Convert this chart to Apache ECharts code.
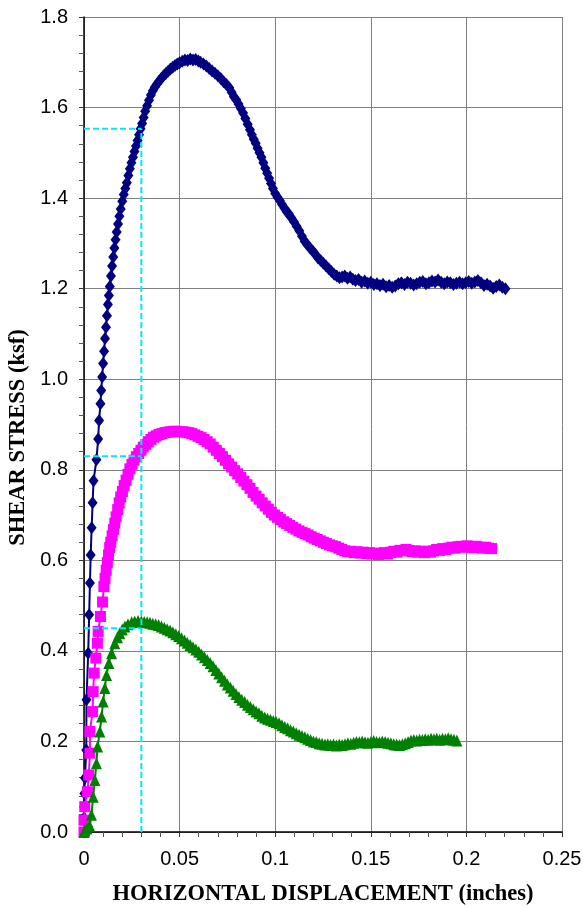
<!DOCTYPE html>
<html>
<head>
<meta charset="utf-8">
<script src="https://cdn.jsdelivr.net/npm/echarts@6/dist/echarts.min.js"></script>
<style>
html,body{margin:0;padding:0;background:#fff;}
#chart{width:583px;height:907px;}
</style>
</head>
<body>
<div id="chart"></div>
<script>
// ---- Data ----
var xTitle = 'HORIZONTAL DISPLACEMENT (inches)';
var yTitle = 'SHEAR STRESS (ksf)';

var blueX = [0.0000,0.0000,0.0000,0.0002,0.0005,0.0012,0.0013,0.0022,0.0027,0.0031,0.0035,0.0040,0.0045,0.0050,0.0065,0.0074,0.0079,0.0086,
0.0090,0.0095,0.0100,0.0105,0.0110,0.0115,0.0120,0.0125,0.0130,0.0135,0.0141,0.0147,0.0153,0.0159,0.0165,0.0171,0.0178,0.0185,0.0192,0.0200,
0.0208,0.0216,0.0224,0.0232,0.0240,0.0248,0.0256,0.0264,0.0272,0.0280,0.0288,0.0296,0.0304,0.0312,0.0320,0.0330,0.0340,0.0350,0.0360,0.0370,
0.0380,0.0392,0.0404,0.0416,0.0428,0.0440,0.0452,0.0464,0.0476,0.0488,0.0500,0.0514,0.0528,0.0542,0.0556,0.0570,0.0584,0.0598,
0.0610,0.0625,0.0640,0.0655,0.0670,0.0685,0.0700,0.0715,0.0730,0.0745,0.0760,0.0772,0.0784,0.0796,0.0808,0.0820,0.0832,0.0844,0.0856,0.0868,
0.0878,0.0888,0.0898,0.0908,0.0918,0.0928,0.0938,0.0948,0.0958,0.0968,0.0978,0.0988,0.1000,0.1012,0.1024,0.1036,0.1048,0.1060,0.1072,0.1085,
0.1098,0.1112,0.1126,0.1140,0.1154,0.1168,0.1182,0.1196,0.1210,0.1224,0.1238,0.1252,0.1266,0.1280,0.1294,0.1308,0.1322,0.1336,0.1350,0.1364,
0.1378,0.1392,0.1406,0.1420,0.1436,0.1452,0.1468,0.1484,0.1500,0.1516,0.1532,0.1548,0.1564,0.1580,0.1596,0.1612,0.1628,0.1644,0.1660,0.1676,
0.1692,0.1708,0.1724,0.1740,0.1756,0.1772,0.1788,0.1804,0.1820,0.1836,0.1852,0.1868,0.1884,0.1900,0.1916,0.1932,0.1948,0.1964,0.1980,0.1996,
0.2012,0.2028,0.2044,0.2060,0.2076,0.2092,0.2108,0.2124,0.2140,0.2156,0.2172,0.2188,0.2204];
var blueY = [0.000,0.031,0.056,0.085,0.119,0.181,0.292,0.395,0.480,0.550,0.612,0.672,0.727,0.776,0.822,0.868,0.909,0.946,
0.975,1.005,1.035,1.062,1.090,1.115,1.140,1.165,1.185,1.205,1.228,1.250,1.270,1.290,1.308,1.325,1.343,1.360,1.376,1.393,
1.408,1.421,1.434,1.450,1.465,1.478,1.490,1.503,1.515,1.527,1.540,1.553,1.565,1.578,1.592,1.604,1.616,1.628,1.637,1.645,
1.651,1.658,1.664,1.670,1.675,1.680,1.685,1.689,1.693,1.696,1.699,1.702,1.705,1.704,1.707,1.705,1.706,1.703,
1.700,1.696,1.692,1.686,1.681,1.676,1.670,1.664,1.657,1.651,1.644,1.634,1.624,1.617,1.608,1.598,1.588,1.576,1.563,1.551,
1.540,1.530,1.521,1.510,1.500,1.490,1.478,1.466,1.455,1.444,1.432,1.421,1.410,1.402,1.395,1.386,1.378,1.370,1.365,1.356,
1.348,1.338,1.328,1.316,1.305,1.297,1.290,1.283,1.276,1.268,1.262,1.256,1.250,1.244,1.238,1.232,1.228,1.224,1.226,1.228,
1.223,1.226,1.221,1.218,1.220,1.214,1.217,1.212,1.214,1.209,1.211,1.207,1.210,1.204,1.207,1.203,1.206,1.211,1.213,1.209,
1.214,1.212,1.208,1.211,1.214,1.216,1.211,1.213,1.217,1.215,1.219,1.214,1.211,1.215,1.213,1.209,1.212,1.214,1.211,1.213,
1.216,1.212,1.215,1.218,1.213,1.207,1.210,1.206,1.201,1.205,1.208,1.203,1.200];

var magX = [0.0000,0.0000,0.0004,0.0018,0.0025,0.0031,0.0031,0.0045,0.0048,0.0053,0.0062,0.0070,0.0074,0.0086,0.0097,0.0104,
0.0110,0.0116,0.0122,0.0128,0.0134,0.0140,0.0147,0.0154,0.0161,0.0168,0.0176,0.0184,0.0192,0.0201,0.0210,0.0220,0.0230,0.0240,0.0251,0.0262,
0.0274,0.0286,0.0298,0.0310,0.0323,0.0336,0.0350,0.0364,0.0378,0.0393,0.0408,0.0423,0.0438,0.0453,0.0468,0.0484,0.0500,0.0516,0.0532,0.0548,
0.0564,0.0580,0.0596,0.0612,0.0628,0.0644,0.0660,0.0676,0.0692,0.0708,0.0724,0.0740,0.0756,0.0772,0.0788,0.0804,0.0820,0.0836,0.0852,0.0868,
0.0884,0.0900,0.0916,0.0932,0.0948,0.0964,0.0980,0.0996,0.1012,0.1028,0.1044,0.1060,0.1076,0.1092,0.1108,0.1124,0.1140,0.1156,0.1172,0.1188,
0.1204,0.1220,0.1236,0.1252,0.1268,0.1284,0.1300,0.1316,0.1332,0.1348,0.1364,0.1380,0.1396,0.1412,0.1428,0.1444,0.1460,0.1476,0.1492,0.1508,
0.1524,0.1540,0.1556,0.1572,0.1588,0.1604,0.1620,0.1636,0.1652,0.1668,0.1684,0.1700,0.1716,0.1732,0.1748,0.1764,0.1780,0.1796,0.1812,0.1828,
0.1844,0.1860,0.1876,0.1892,0.1908,0.1924,0.1940,0.1956,0.1972,0.1988,0.2004,0.2020,0.2036,0.2052,0.2068,0.2084,0.2100,0.2116,0.2132];
var magY = [0.000,0.026,0.056,0.089,0.126,0.174,0.222,0.266,0.310,0.351,0.384,0.417,0.443,0.476,0.508,0.542,
0.560,0.578,0.595,0.612,0.628,0.640,0.654,0.668,0.682,0.696,0.712,0.727,0.740,0.752,0.765,0.777,0.790,0.802,0.812,0.821,
0.829,0.836,0.843,0.850,0.856,0.862,0.867,0.872,0.875,0.878,0.880,0.882,0.883,0.884,0.885,0.885,0.884,0.884,0.883,0.882,
0.880,0.877,0.874,0.871,0.867,0.862,0.857,0.850,0.843,0.836,0.829,0.821,0.813,0.806,0.798,0.791,0.783,0.775,0.767,0.759,
0.750,0.742,0.735,0.727,0.720,0.713,0.706,0.700,0.695,0.690,0.685,0.681,0.677,0.673,0.669,0.665,0.662,0.659,0.656,0.652,
0.649,0.646,0.643,0.640,0.637,0.634,0.632,0.630,0.627,0.624,0.621,0.619,0.620,0.617,0.619,0.616,0.618,0.615,0.617,0.614,
0.616,0.613,0.615,0.617,0.614,0.618,0.620,0.618,0.622,0.621,0.624,0.622,0.619,0.621,0.618,0.620,0.617,0.620,0.618,0.621,
0.624,0.622,0.626,0.624,0.627,0.629,0.627,0.630,0.631,0.629,0.632,0.630,0.628,0.631,0.629,0.627,0.629,0.627,0.626];

var grnX = [0.0000,0.0005,0.0015,0.0030,0.0039,0.0048,0.0057,0.0065,0.0071,0.0083,0.0092,0.0100,0.0109,0.0118,0.0130,0.0144,0.0161,0.0175,0.0187,
0.0200,0.0214,0.0230,0.0249,0.0265,0.0283,0.0300,0.0315,0.0330,0.0345,0.0360,0.0375,0.0390,0.0405,0.0420,0.0435,0.0450,0.0465,0.0480,0.0495,
0.0510,0.0525,0.0540,0.0555,0.0570,0.0585,0.0600,0.0615,0.0630,0.0645,0.0660,0.0675,0.0690,0.0705,0.0720,0.0735,0.0750,0.0765,0.0780,0.0795,
0.0810,0.0825,0.0840,0.0855,0.0870,0.0885,0.0900,0.0915,0.0930,0.0945,0.0960,0.0975,0.0990,0.1005,0.1020,0.1035,0.1050,0.1065,0.1080,0.1095,
0.1110,0.1125,0.1140,0.1155,0.1170,0.1185,0.1200,0.1215,0.1230,0.1245,0.1260,0.1275,0.1290,0.1305,0.1320,0.1335,0.1350,0.1365,0.1380,0.1395,
0.1410,0.1425,0.1440,0.1455,0.1470,0.1485,0.1500,0.1515,0.1530,0.1545,0.1560,0.1575,0.1590,0.1605,0.1620,0.1635,0.1650,0.1665,0.1680,0.1695,
0.1710,0.1725,0.1740,0.1755,0.1770,0.1785,0.1800,0.1815,0.1830,0.1845,0.1860,0.1875,0.1890,0.1905,0.1920,0.1935,0.1950];
var grnY = [0.000,0.004,0.008,0.014,0.038,0.078,0.115,0.152,0.189,0.222,0.255,0.288,0.318,0.347,0.373,0.395,0.417,0.430,0.439,
0.447,0.454,0.459,0.463,0.465,0.466,0.465,0.464,0.463,0.462,0.460,0.459,0.457,0.454,0.451,0.448,0.445,0.441,0.437,0.433,
0.428,0.423,0.418,0.413,0.408,0.403,0.398,0.392,0.386,0.380,0.373,0.366,0.358,0.350,0.342,0.334,0.326,0.319,0.312,0.305,
0.298,0.292,0.287,0.281,0.276,0.271,0.266,0.262,0.257,0.253,0.250,0.248,0.245,0.243,0.240,0.236,0.232,0.229,0.225,0.222,
0.218,0.215,0.212,0.209,0.206,0.203,0.200,0.199,0.196,0.195,0.193,0.194,0.192,0.193,0.191,0.193,0.192,0.194,0.196,0.195,
0.197,0.199,0.198,0.200,0.198,0.197,0.199,0.201,0.199,0.198,0.200,0.199,0.197,0.196,0.194,0.193,0.192,0.194,0.196,0.199,
0.202,0.203,0.202,0.204,0.203,0.205,0.204,0.206,0.205,0.206,0.204,0.206,0.205,0.207,0.205,0.204,0.202];

// Reference (dashed) lines: vertical at refX, horizontal levels refY
var refX = 0.03;
var refY = [1.553, 0.83, 0.45];

function zip(xs, ys){ return xs.map(function(x,i){ return [x, ys[i]]; }); }

var chart = echarts.init(document.getElementById('chart'), null, {renderer:'canvas'});

var series = [
  {type:'line', name:'blue', data: zip(blueX, blueY), symbol:'diamond', symbolSize:[10,13], showSymbol:true,
   itemStyle:{color:'#000080'}, lineStyle:{color:'#000080', width:2}, z:2},
  {type:'line', name:'magenta', data: zip(magX, magY), symbol:'rect', symbolSize:11, showSymbol:true,
   itemStyle:{color:'#FF00FF'}, lineStyle:{color:'#FF00FF', width:2}, z:3},
  {type:'line', name:'green', data: zip(grnX, grnY), symbol:'triangle', symbolSize:[11,12], showSymbol:true,
   itemStyle:{color:'#008000'}, lineStyle:{color:'#008000', width:2}, z:4},
  {type:'line', name:'ref-v', data: [[refX, 0],[refX, refY[0]]], symbol:'none',
   lineStyle:{color:'#00E8FF', width:2, type:[6,3]}, z:5}
];
refY.forEach(function(v, i){
  series.push({type:'line', name:'ref-h'+i, data: [[0, v],[refX, v]], symbol:'none',
    lineStyle:{color:'#00E8FF', width:2, type:[6,3]}, z:5});
});

chart.setOption({
  animation:false,
  backgroundColor:'#ffffff',
  grid:{left:84, right:21, top:17, bottom:75, containLabel:false, outerBoundsMode:'none'},
  xAxis:{
    type:'value', min:0, max:0.25, interval:0.05,
    name:xTitle, nameLocation:'middle', nameGap:51,
    nameTextStyle:{fontFamily:'Liberation Serif', fontWeight:'bold', fontSize:22.5, color:'#000'},
    axisLine:{show:true, onZero:false, lineStyle:{color:'#000', width:1.5}},
    axisTick:{show:true, inside:false, length:5, lineStyle:{color:'#333'}},
    minorTick:{show:true, splitNumber:5, length:5, lineStyle:{color:'#555'}},
    axisLabel:{fontFamily:'Liberation Sans', fontSize:20, color:'#000', margin:17},
    splitLine:{show:true, lineStyle:{color:'#808080', width:1}}
  },
  yAxis:{
    type:'value', min:0, max:1.8, interval:0.2,
    name:yTitle, nameLocation:'middle', nameGap:47, nameRotate:90,
    nameTextStyle:{fontFamily:'Liberation Serif', fontWeight:'bold', fontSize:22.5, color:'#000', padding:[0,26,0,0]},
    axisLine:{show:true, onZero:false, lineStyle:{color:'#000', width:1.5}},
    axisTick:{show:true, inside:false, length:5, lineStyle:{color:'#333'}},
    minorTick:{show:true, splitNumber:5, length:5, lineStyle:{color:'#555'}},
    axisLabel:{fontFamily:'Liberation Sans', fontSize:20, color:'#000', margin:16,
      formatter:function(v){ return v.toFixed(1); }},
    splitLine:{show:true, lineStyle:{color:'#808080', width:1}}
  },
  series: series
});
</script>
</body>
</html>
